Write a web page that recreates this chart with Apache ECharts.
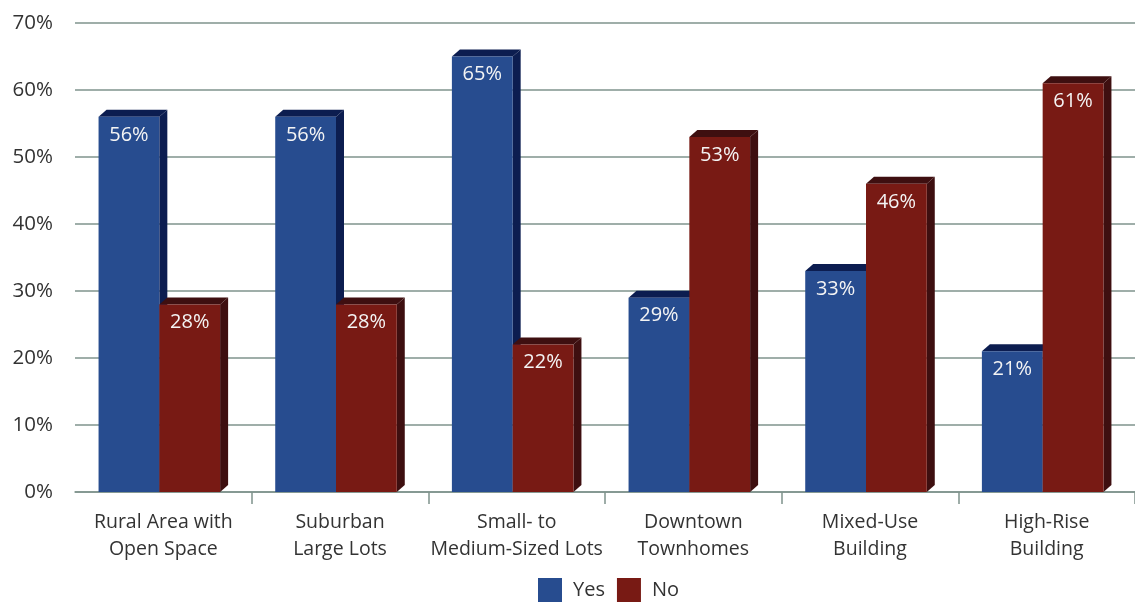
<!DOCTYPE html>
<html>
<head>
<meta charset="utf-8">
<script src="https://cdn.jsdelivr.net/npm/echarts@6/dist/echarts.min.js"></script>
<style>
  html, body { margin: 0; padding: 0; background: #ffffff; }
  #chart { width: 1135px; height: 602px; }
</style>
</head>
<body>
<div id="chart"></div>
<script>
// Housing preferences: share answering Yes / No per housing type
const categories = [
  'Rural Area with\nOpen Space',
  'Suburban\nLarge Lots',
  'Small- to\nMedium-Sized Lots',
  'Downtown\nTownhomes',
  'Mixed-Use\nBuilding',
  'High-Rise\nBuilding'
];
const yesValues = [56, 56, 65, 29, 33, 21];
const noValues  = [28, 28, 22, 53, 46, 61];
const yTicks = { min: 0, max: 70, interval: 10 };

const FONT = '"Open Sans", "Liberation Sans", sans-serif';
const DEPTH_X = 8;   // oblique extrusion of each box
const DEPTH_Y = 7;
const BAR_FRACTION = 0.344; // one bar's share of a category band

const palette = {
  yes: { front: '#274c8f', shade: '#0c1d50' },
  no:  { front: '#781a14', shade: '#3e0f10' }
};

// Draws one extruded bar: front face, top face and right side face
function makeRenderer(side, colors) {
  return function (params, api) {
    const ci = api.value(0);
    const v = api.value(1);
    const base = api.coord([ci, 0]);
    const top = api.coord([ci, v]);
    const band = api.size([1, 0])[0];
    const w = band * BAR_FRACTION;
    const cx = base[0] - DEPTH_X / 2;
    const x0 = side === 0 ? cx - w : cx;
    const x1 = x0 + w;
    const yt = top[1];
    const yb = base[1];
    return {
      type: 'group',
      children: [
        {
          type: 'polygon',
          shape: { points: [[x1, yt], [x1 + DEPTH_X, yt - DEPTH_Y], [x1 + DEPTH_X, yb - DEPTH_Y], [x1, yb]] },
          style: { fill: colors.shade }
        },
        {
          type: 'polygon',
          shape: { points: [[x0, yt], [x0 + DEPTH_X, yt - DEPTH_Y], [x1 + DEPTH_X, yt - DEPTH_Y], [x1, yt]] },
          style: { fill: colors.shade }
        },
        {
          type: 'rect',
          shape: { x: x0, y: yt, width: w, height: yb - yt },
          style: { fill: colors.front }
        },
        {
          type: 'text',
          x: x0 + w / 2,
          y: yt + 8,
          style: {
            text: v + '%',
            fill: '#f4f4f4',
            font: '20px ' + FONT,
            align: 'center',
            verticalAlign: 'top'
          }
        }
      ]
    };
  };
}

const chart = echarts.init(document.getElementById('chart'), null, { renderer: 'canvas' });

chart.setOption({
  animation: false,
  backgroundColor: '#ffffff',
  textStyle: { fontFamily: FONT },
  grid: { left: 75, right: -12, top: 23, bottom: 110 },
  legend: {
    top: 578,
    left: 538,
    itemWidth: 24,
    itemHeight: 24,
    itemGap: 12,
    padding: 0,
    icon: 'rect',
    textStyle: { fontSize: 20, color: '#333333', fontFamily: FONT, padding: [2, 0, 0, 6] },
    data: ['Yes', 'No']
  },
  xAxis: {
    type: 'category',
    data: categories,
    boundaryGap: true,
    axisLine: { show: true, lineStyle: { color: '#7f938c', width: 1.5 } },
    axisTick: {
      show: true,
      length: 12,
      // only the separators between categories, not the outer edge
      interval: function (index) { return index > 0; },
      lineStyle: { color: '#7f938c', width: 1.5 }
    },
    axisLabel: {
      interval: 0,
      margin: 17,
      fontSize: 19.5,
      lineHeight: 27,
      color: '#333333',
      fontFamily: FONT
    }
  },
  yAxis: {
    type: 'value',
    min: yTicks.min,
    max: yTicks.max,
    interval: yTicks.interval,
    axisLine: { show: false },
    axisTick: { show: false },
    axisLabel: {
      formatter: '{value}%',
      fontSize: 20.5,
      margin: 22,
      color: '#333333',
      fontFamily: FONT
    },
    splitLine: { show: true, lineStyle: { color: '#7f938c', width: 1.5 } }
  },
  series: [
    {
      name: 'Yes',
      type: 'custom',
      itemStyle: { color: palette.yes.front },
      encode: { x: 0, y: 1 },
      data: yesValues.map((v, i) => [i, v]),
      renderItem: makeRenderer(0, palette.yes),
      z: 3
    },
    {
      name: 'No',
      type: 'custom',
      itemStyle: { color: palette.no.front },
      encode: { x: 0, y: 1 },
      data: noValues.map((v, i) => [i, v]),
      renderItem: makeRenderer(1, palette.no),
      z: 4
    }
  ]
});
</script>
</body>
</html>
